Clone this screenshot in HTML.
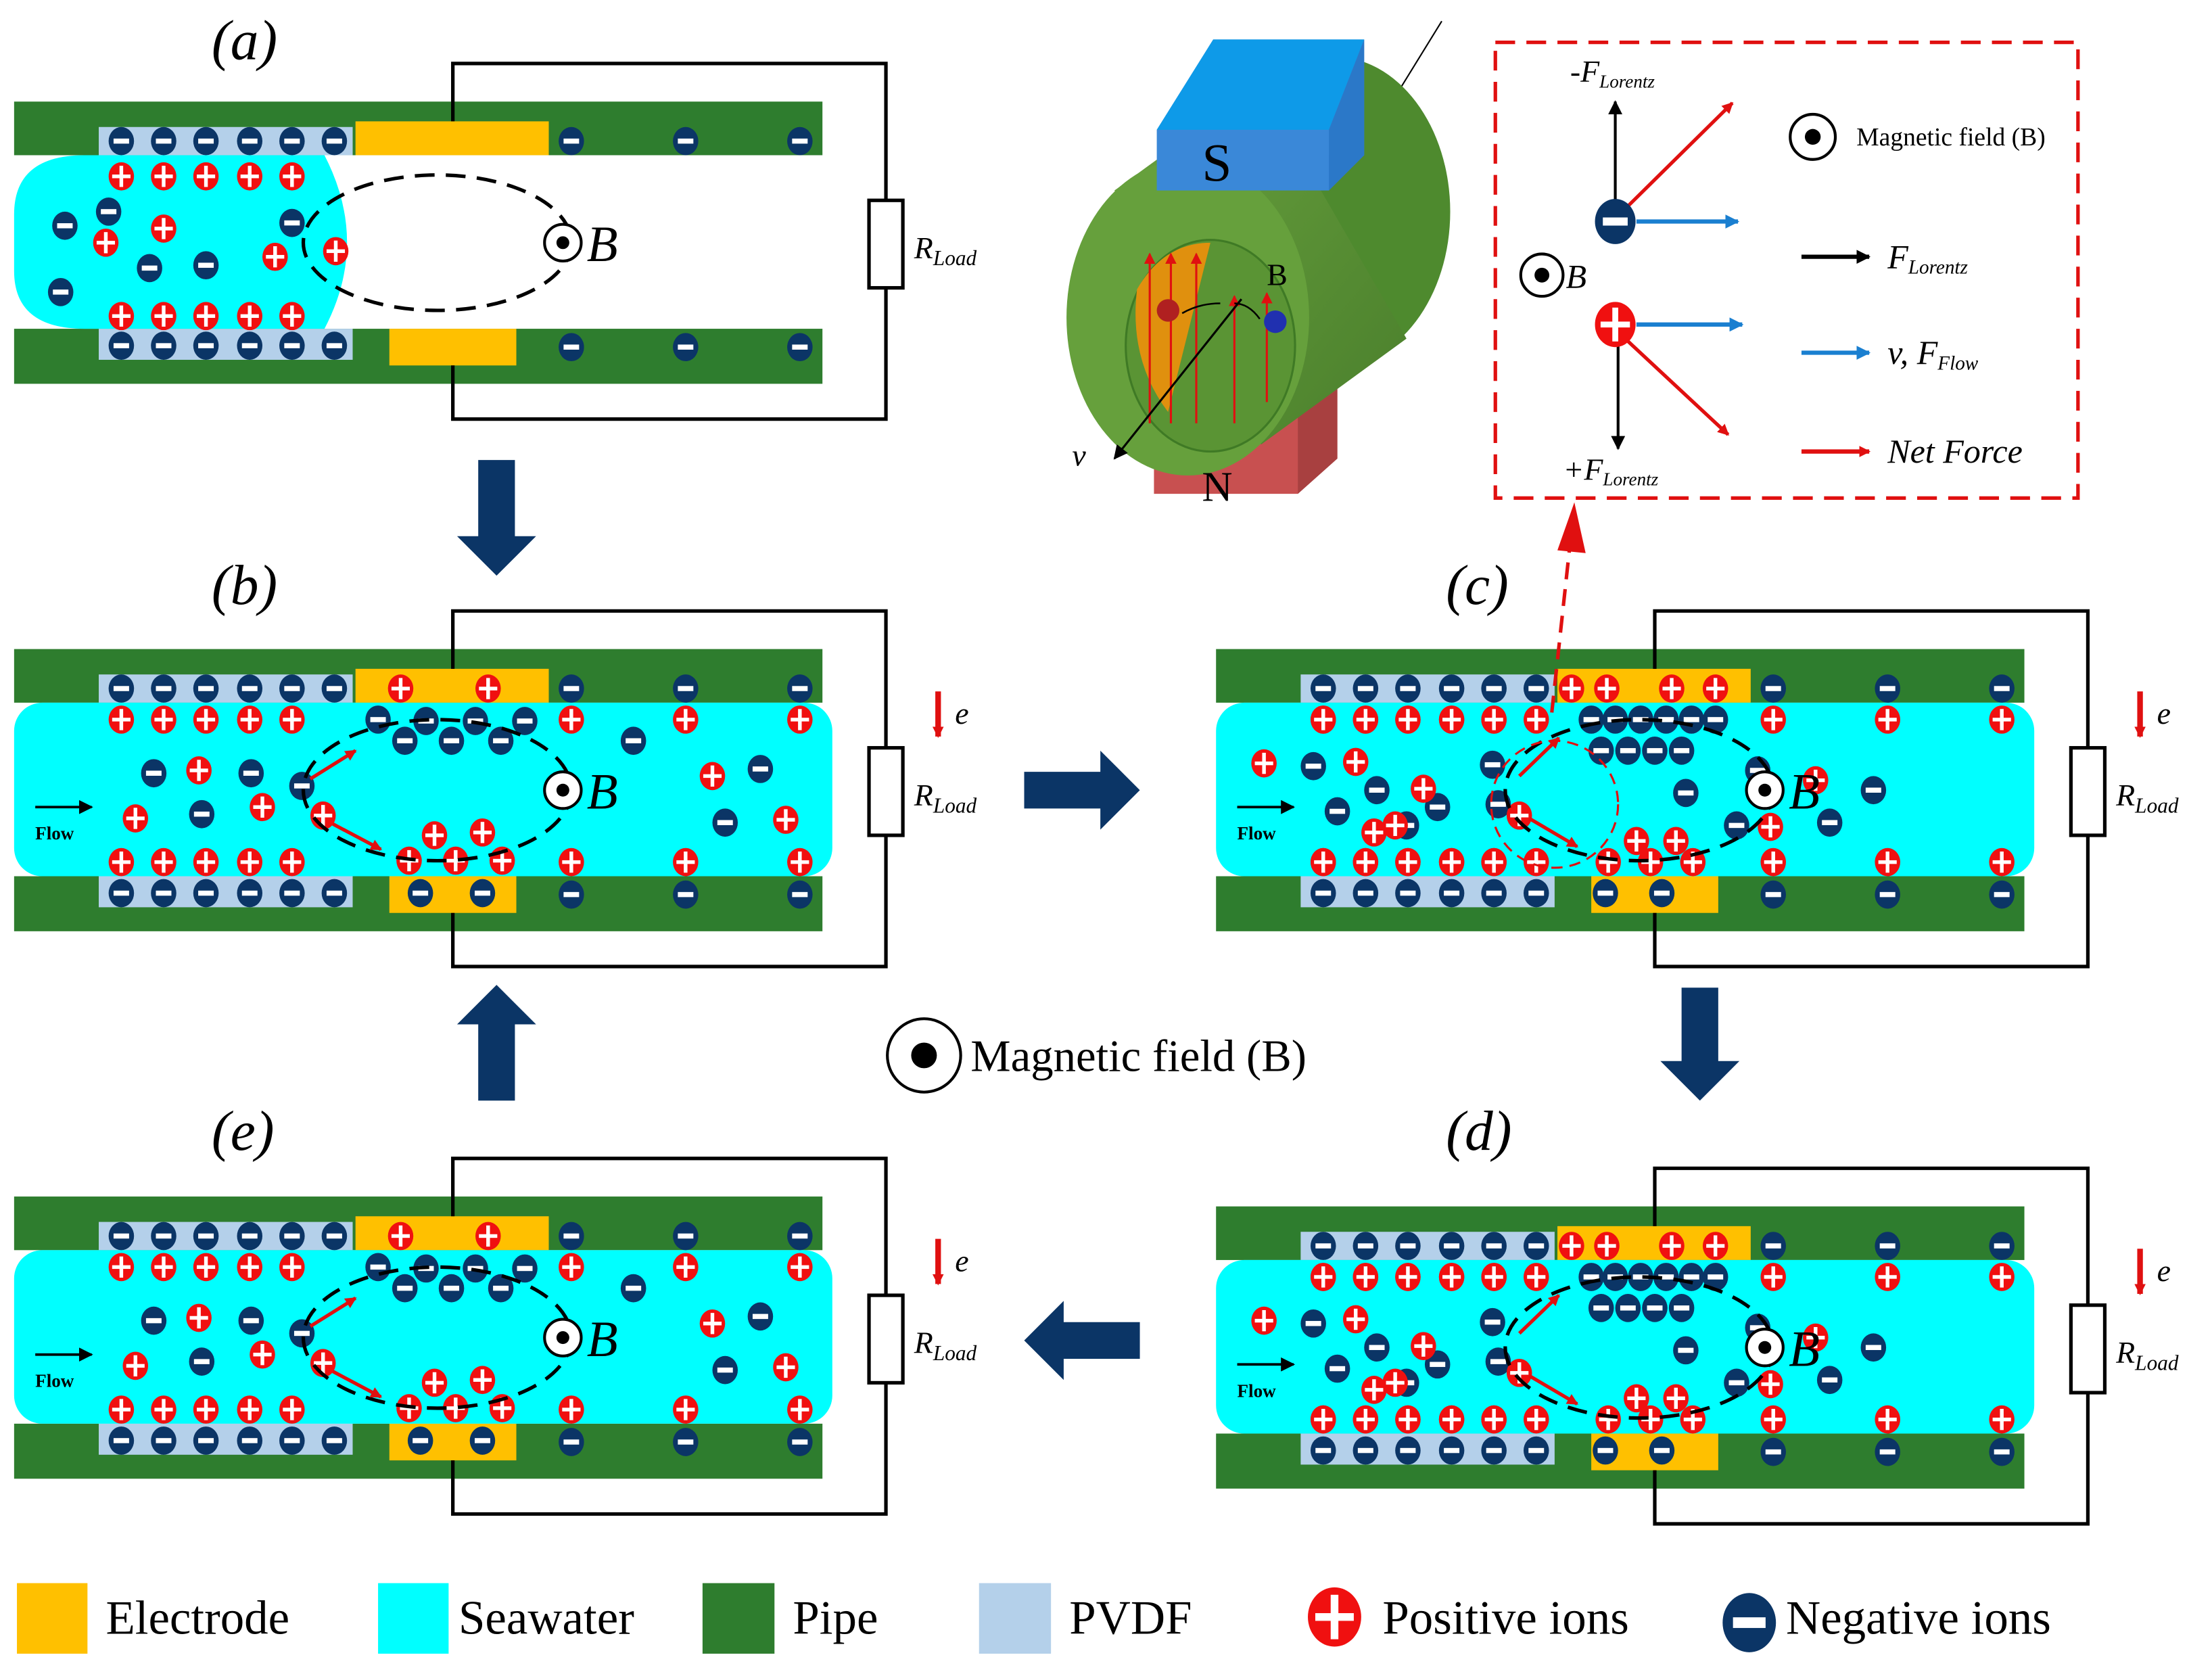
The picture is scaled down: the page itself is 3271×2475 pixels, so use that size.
<!DOCTYPE html>
<html><head><meta charset="utf-8">
<style>
html,body{margin:0;padding:0;background:#fff;}
svg{display:block;}
text{font-family:"Liberation Serif",serif;}
</style></head>
<body>
<svg id="s" width="3271" height="2475" viewBox="0 0 1568 1186.4" preserveAspectRatio="none" xmlns="http://www.w3.org/2000/svg">
<defs>
<g id="neg"><ellipse cx="0" cy="0" rx="9" ry="10" fill="#0b3566"/><rect x="-5.5" y="-1.8" width="11" height="3.6" fill="#fff"/></g>
<g id="pos"><ellipse cx="0" cy="0" rx="9" ry="10" fill="#f01010"/><rect x="-6.5" y="-1.3" width="13" height="2.6" fill="#fff"/><rect x="-1.3" y="-7.5" width="2.6" height="15" fill="#fff"/></g>
<marker id="ar" markerWidth="8" markerHeight="8" refX="7" refY="4" orient="auto" markerUnits="userSpaceOnUse"><path d="M0,0 L8,4 L0,8 z" fill="#e01010"/></marker>
<marker id="ak" markerWidth="10" markerHeight="10" refX="9" refY="5" orient="auto" markerUnits="userSpaceOnUse"><path d="M0,0 L10,5 L0,10 z" fill="#000"/></marker>
<marker id="ab" markerWidth="10" markerHeight="10" refX="9" refY="5" orient="auto" markerUnits="userSpaceOnUse"><path d="M0,0 L10,5 L0,10 z" fill="#1a7fd0"/></marker>
<linearGradient id="cyl" x1="0" y1="0" x2="1" y2="1"><stop offset="0" stop-color="#6aa23e"/><stop offset="1" stop-color="#4a7f2c"/></linearGradient>
</defs>
<g id="root"></g>
</svg>
<script>
var out=[];
function A(s){out.push(s);}
function ion(t,x,y){A('<use href="#'+t+'" x="'+x+'" y="'+y+'"/>');}
function pipeBase(dx,dy,full){
  A('<rect x="'+(10+dx)+'" y="'+(460+dy)+'" width="573" height="38" fill="#2e7d2e"/>');
  A('<rect x="'+(70+dx)+'" y="'+(478+dy)+'" width="180" height="20" fill="#b4d0ea"/>');
  A('<rect x="'+(252+dx)+'" y="'+(474+dy)+'" width="137" height="24" fill="#ffc000"/>');
  A('<rect x="'+(10+dx)+'" y="'+(621+dy)+'" width="573" height="39" fill="#2e7d2e"/>');
  A('<rect x="'+(70+dx)+'" y="'+(621+dy)+'" width="180" height="22" fill="#b4d0ea"/>');
  A('<rect x="'+(276+dx)+'" y="'+(621+dy)+'" width="90" height="26" fill="#ffc000"/>');
  if(full){
    A('<rect x="'+(10+dx)+'" y="'+(498+dy)+'" width="580" height="123" rx="20" fill="#00ffff"/>');
  } else {
    A('<path d="M'+(60+dx)+','+(498+dy)+' L'+(230+dx)+','+(498+dy)+' Q'+(262+dx)+','+(560+dy)+' '+(230+dx)+','+(621+dy)+' L'+(60+dx)+','+(621+dy)+' Q'+(10+dx)+','+(621+dy)+' '+(10+dx)+','+(580+dy)+' L'+(10+dx)+','+(540+dy)+' Q'+(10+dx)+','+(498+dy)+' '+(60+dx)+','+(498+dy)+' z" fill="#00ffff"/>');
  }
  A('<path d="M'+(321+dx)+','+(474+dy)+' V'+(433+dy)+' H'+(628+dx)+' V'+(530+dy)+' M'+(628+dx)+','+(592+dy)+' V'+(685+dy)+' H'+(321+dx)+' V'+(647+dy)+'" fill="none" stroke="#000" stroke-width="2.5"/>');
  A('<rect x="'+(616+dx)+'" y="'+(530+dy)+'" width="24" height="62" fill="#fff" stroke="#000" stroke-width="2.5"/>');
  A('<text x="'+(648+dx)+'" y="'+(571+dy)+'" font-size="22" font-style="italic">R<tspan font-size="15" dy="5">Load</tspan></text>');
  [86,116,146,177,207,237].forEach(function(x){ion('neg',x+dx,488+dy);ion('neg',x+dx,633+dy);});
  [405,486,567].forEach(function(x){ion('neg',x+dx,488+dy);ion('neg',x+dx,634+dy);});
}
function dashEll(cx,cy,rx,ry){A('<ellipse cx="'+cx+'" cy="'+cy+'" rx="'+rx+'" ry="'+ry+'" fill="none" stroke="#000" stroke-width="2.5" stroke-dasharray="14,8"/>');}
function odot(x,y,r,fs){A('<circle cx="'+x+'" cy="'+y+'" r="'+r+'" fill="#fff" stroke="#000" stroke-width="2"/><circle cx="'+x+'" cy="'+y+'" r="'+(r*0.35)+'" fill="#000"/>');
 if(fs) A('<text x="'+(x+r+4)+'" y="'+(y+13)+'" font-size="'+fs+'" font-style="italic">B</text>');}
function flowPanel(dx,dy){
  pipeBase(dx,dy,true);
  A('<path d="M'+(25+dx)+','+(572+dy)+' H'+(65+dx)+'" stroke="#000" stroke-width="1.8" marker-end="url(#ak)"/>');
  A('<text x="'+(25+dx)+'" y="'+(595+dy)+'" font-size="13" font-weight="bold">Flow</text>');
  A('<path d="M'+(665+dx)+','+(490+dy)+' V'+(522+dy)+'" stroke="#e01010" stroke-width="4" marker-end="url(#ar)"/>');
  A('<text x="'+(677+dx)+'" y="'+(513+dy)+'" font-size="22" font-style="italic">e</text>');
  [86,116,146,177,207].forEach(function(x){ion('pos',x+dx,510+dy);ion('pos',x+dx,611+dy);});
  [405,486,567].forEach(function(x){ion('pos',x+dx,510+dy);ion('pos',x+dx,611+dy);});
}
var root=document.getElementById('root');

(function(){
pipeBase(0,-388,false);
[86,116,146,177,207].forEach(function(x){ion('pos',x,125);ion('pos',x,224);});
[[46,160],[77,150],[207,158],[106,190],[146,188],[43,207]].forEach(function(p){ion('neg',p[0],p[1]);});
[[116,162],[75,172],[195,182],[238,178]].forEach(function(p){ion('pos',p[0],p[1]);});
dashEll(310,172,95,48);
odot(399,172,13,36);
})();

function bPanel(dx,dy){
flowPanel(dx,dy);
[[109,548],[178,548],[214,557],[143,577],[268,510],[287,525],[302,511],[320,525],[337,511],[355,525],[372,511],[449,525],[539,545],[514,583]].forEach(function(p){ion('neg',p[0]+dx,p[1]+dy);});
[[141,546],[96,580],[186,572],[229,578],[308,592],[342,590],[290,610],[323,610],[356,610],[505,550],[557,581]].forEach(function(p){ion('pos',p[0]+dx,p[1]+dy);});
ion('pos',284+dx,488+dy);ion('pos',346+dx,488+dy);
ion('neg',298+dx,633+dy);ion('neg',342+dx,633+dy);
dashEll(310+dx,560+dy,95,50);
A('<path d="M'+(220+dx)+','+(552+dy)+' L'+(252+dx)+','+(532+dy)+'" stroke="#e01010" stroke-width="2.5" marker-end="url(#ar)"/>');
A('<path d="M'+(236+dx)+','+(584+dy)+' L'+(270+dx)+','+(602+dy)+'" stroke="#e01010" stroke-width="2.5" marker-end="url(#ar)"/>');
odot(399+dx,560+dy,13,36);
}
bPanel(0,0);
bPanel(0,388);

function cPanel(dx,dy){
flowPanel(dx,dy);
[86,116,146,177,207,237].forEach(function(x){ion('pos',x+dx,510+dy);ion('pos',x+dx,611+dy);});
[[276,510],[293,510],[311,510],[329,510],[347,510],[364,510],[283,532],[302,532],[321,532],[340,532],[79,543],[167,572],[206,542],[124,560],[96,575],[145,585],[210,570],[343,562],[394,546],[445,583],[379,585],[476,560]].forEach(function(p){ion('neg',p[0]+dx,p[1]+dy);});
[[44,541],[109,540],[157,559],[137,585],[122,590],[225,578],[308,596],[336,596],[288,611],[318,611],[348,611],[403,586],[435,553]].forEach(function(p){ion('pos',p[0]+dx,p[1]+dy);});
ion('pos',262+dx,488+dy);ion('pos',287+dx,488+dy);ion('pos',333+dx,488+dy);ion('pos',364+dx,488+dy);
ion('neg',286+dx,633+dy);ion('neg',326+dx,633+dy);
dashEll(310+dx,560+dy,95,50);
A('<path d="M'+(225+dx)+','+(550+dy)+' L'+(253+dx)+','+(523+dy)+'" stroke="#e01010" stroke-width="2.5" marker-end="url(#ar)"/>');
A('<path d="M'+(232+dx)+','+(580+dy)+' L'+(266+dx)+','+(600+dy)+'" stroke="#e01010" stroke-width="2.5" marker-end="url(#ar)"/>');
odot(399+dx,560+dy,13,36);
}
cPanel(852,0);
cPanel(852,395);
A('<circle cx="1102" cy="570" r="45" fill="none" stroke="#e01010" stroke-width="1.5" stroke-dasharray="8,5"/>');
A('<path d="M1100,505 L1113,385" stroke="#e01010" stroke-width="2.5" stroke-dasharray="12,7"/>');
A('<path d="M1104,390 L1116,356 L1124,392 z" fill="#e01010"/>');

[['(a)',150,42],['(b)',150,428],['(c)',1025,428],['(e)',150,815],['(d)',1025,815]].forEach(function(l){A('<text x="'+l[1]+'" y="'+l[2]+'" font-size="40" font-style="italic">'+l[0]+'</text>');});

function bigArrow(x,y,len,dir){
  var w=13,h=28,hl=28,p;
  if(dir=='d') p=[[x-w,y],[x+w,y],[x+w,y+len-hl],[x+h,y+len-hl],[x,y+len],[x-h,y+len-hl],[x-w,y+len-hl]];
  if(dir=='u') p=[[x-w,y+len],[x+w,y+len],[x+w,y+hl],[x+h,y+hl],[x,y],[x-h,y+hl],[x-w,y+hl]];
  if(dir=='r') p=[[x,y-w],[x,y+w],[x+len-hl,y+w],[x+len-hl,y+h],[x+len,y],[x+len-hl,y-h],[x+len-hl,y-w]];
  if(dir=='l') p=[[x+len,y-w],[x+len,y+w],[x+hl,y+w],[x+hl,y+h],[x,y],[x+hl,y-h],[x+hl,y-w]];
  A('<polygon points="'+p.map(function(q){return q.join(',')}).join(' ')+'" fill="#0b3566"/>');
}
bigArrow(352,326,82,'d');bigArrow(726,560,82,'r');bigArrow(1205,700,80,'d');bigArrow(726,950,82,'l');bigArrow(352,698,82,'u');
odot(655,748,26,0);
A('<text x="688" y="759" font-size="32">Magnetic field (B)</text>');

// ---------- 3D magnet ----------
A('<path d="M985,75 L1022,15" stroke="#000" stroke-width="1"/>');
A('<polygon points="818,290 920,290 948,262 948,325 920,350 818,350" fill="#c85050"/>');
A('<polygon points="920,290 948,262 948,325 920,350" fill="#a84040"/>');
A('<ellipse cx="945" cy="150" rx="83" ry="110" fill="#4e8a2e"/>');
A('<polygon points="790,135 893,60 997,240 894,315" fill="url(#cyl)"/>');
A('<ellipse cx="842" cy="225" rx="86" ry="112" fill="#66a03c"/>');
A('<ellipse cx="858" cy="245" rx="60" ry="75" fill="#5a9434" stroke="#3f7a25" stroke-width="1.5"/>');
A('<path d="M806,205 Q825,172 858,172 L828,292 Q800,255 806,205 z" fill="#e0900e"/>');
[815,830,848,875].forEach(function(x,i){A('<path d="M'+x+',300 V'+(i==3?210:180)+'" stroke="#e01010" stroke-width="1.5" marker-end="url(#ar)"/>');});
A('<path d="M898,285 V208" stroke="#e01010" stroke-width="1.5" marker-end="url(#ar)"/>');
A('<circle cx="828" cy="220" r="8" fill="#b02020"/><circle cx="904" cy="228" r="8" fill="#2030b0"/>');
A('<path d="M880,212 L790,325" stroke="#000" stroke-width="1.5" marker-end="url(#ak)"/>');
A('<path d="M865,215 Q850,215 838,222" stroke="#000" stroke-width="1.2" fill="none"/><path d="M875,215 Q885,215 893,226" stroke="#000" stroke-width="1.2" fill="none"/>');
A('<text x="898" y="202" font-size="22">B</text><text x="760" y="330" font-size="22" font-style="italic">v</text>');
A('<text x="852" y="355" font-size="30">N</text>');
A('<polygon points="860,28 967,28 967,110 942,135 820,135 820,92" fill="#3a88d8"/>');
A('<polygon points="860,28 967,28 942,92 820,92" fill="#0e9ae8"/>');
A('<polygon points="942,92 967,28 967,110 942,135" fill="#2b78c8"/>');
A('<text x="852" y="128" font-size="38">S</text>');

// ---------- inset ----------
A('<rect x="1060" y="30" width="413" height="323" fill="#fff" stroke="#e01010" stroke-width="2.5" stroke-dasharray="14,8"/>');
A('<text x="1113" y="58" font-size="22" font-style="italic">-F<tspan font-size="13" dy="4">Lorentz</tspan></text>');
A('<path d="M1145,145 V72" stroke="#000" stroke-width="2" marker-end="url(#ak)"/>');
A('<path d="M1150,150 L1228,73" stroke="#e01010" stroke-width="2.5" marker-end="url(#ar)"/>');
A('<path d="M1160,157 H1232" stroke="#1a7fd0" stroke-width="3" marker-end="url(#ab)"/>');
A('<g transform="translate(1145,157) scale(1.6)"><use href="#neg"/></g>');
odot(1093,195,15,0);A('<text x="1110" y="204" font-size="24" font-style="italic">B</text>');
A('<path d="M1160,230 H1235" stroke="#1a7fd0" stroke-width="3" marker-end="url(#ab)"/>');
A('<path d="M1152,240 L1225,308" stroke="#e01010" stroke-width="2.5" marker-end="url(#ar)"/>');
A('<path d="M1147,245 V318" stroke="#000" stroke-width="2" marker-end="url(#ak)"/>');
A('<g transform="translate(1145,230) scale(1.6)"><use href="#pos"/></g>');
A('<text x="1108" y="340" font-size="22" font-style="italic">+F<tspan font-size="13" dy="4">Lorentz</tspan></text>');
odot(1285,97,16,0);A('<text x="1316" y="103" font-size="18">Magnetic field (B)</text>');
A('<path d="M1277,182 H1325" stroke="#000" stroke-width="3" marker-end="url(#ak)"/><text x="1338" y="190" font-size="24" font-style="italic">F<tspan font-size="14" dy="4">Lorentz</tspan></text>');
A('<path d="M1277,250 H1325" stroke="#1a7fd0" stroke-width="3" marker-end="url(#ab)"/><text x="1338" y="258" font-size="24" font-style="italic">v, F<tspan font-size="14" dy="4">Flow</tspan></text>');
A('<path d="M1277,320 H1325" stroke="#e01010" stroke-width="3" marker-end="url(#ar)"/><text x="1338" y="328" font-size="24" font-style="italic">Net Force</text>');

// ---------- legend ----------
A('<rect x="12" y="1122" width="50" height="50" fill="#ffc000"/><text x="75" y="1158" font-size="34">Electrode</text>');
A('<rect x="268" y="1122" width="50" height="50" fill="#00ffff"/><text x="325" y="1158" font-size="34">Seawater</text>');
A('<rect x="498" y="1122" width="51" height="50" fill="#2e7d2e"/><text x="562" y="1158" font-size="34">Pipe</text>');
A('<rect x="694" y="1122" width="51" height="50" fill="#b4d0ea"/><text x="758" y="1158" font-size="34">PVDF</text>');
A('<g transform="translate(946,1146) scale(2.1)"><use href="#pos"/></g><text x="980" y="1158" font-size="34">Positive ions</text>');
A('<g transform="translate(1240,1150) scale(2.1)"><use href="#neg"/></g><text x="1266" y="1158" font-size="34">Negative ions</text>');

root.innerHTML=out.join('');
</script>
</body></html>
